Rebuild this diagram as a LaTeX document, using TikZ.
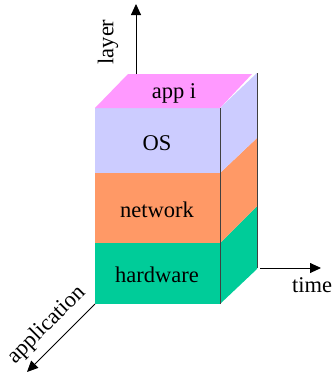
\documentclass[tikz,border=0pt]{standalone}
\usepackage{fontspec}
\setmainfont{Liberation Serif}
\usetikzlibrary{arrows.meta}
\definecolor{apppink}{HTML}{FF99FF}
\definecolor{oslav}{HTML}{CCCCFF}
\definecolor{netorange}{HTML}{FF9966}
\definecolor{hwgreen}{HTML}{00CC99}
\begin{document}
\begin{tikzpicture}[x=1pt,y=-1pt,
  lbl/.style={font=\fontsize{22.5}{27}\selectfont, inner sep=0pt},
  axis/.style={line width=0.9pt, -{Triangle[length=11pt,width=10pt]}},
  boxedge/.style={draw=black!75, line width=1pt}]
\useasboundingbox (0,0) rectangle (332,373);

% front face of the stack
\fill[hwgreen]   (95,243) rectangle (220,304);
\fill[netorange] (95,173) rectangle (220,243);
\fill[oslav]     (95,108) rectangle (220,173);
% side face
\fill[hwgreen]   (220,243) -- (257,206) -- (257,269) -- (220,304) -- cycle;
\fill[netorange] (220,173) -- (257,138) -- (257,206) -- (220,243) -- cycle;
\fill[oslav]     (220,108) -- (257,73)  -- (257,138) -- (220,173) -- cycle;
% top face
\fill[apppink]   (95,108) -- (220,108) -- (252,74) -- (128,74) -- cycle;

% vertical edges
\coordinate (frt) at (220,108);
\coordinate (frb) at (220,304);
\coordinate (brt) at (257,73);
\coordinate (brb) at (257,268);
\draw[boxedge] (frt) -- (frb);
\draw[boxedge] (brt) -- (brb);

% axes
\coordinate (layer0) at (136,74);
\coordinate (layer1) at (136,4);
\coordinate (time0)  at (260,268);
\coordinate (time1)  at (321,268);
\coordinate (app0)   at (95,304);
\coordinate (app1)   at (27,372);
\draw[axis] (layer0) -- (layer1);
\draw[axis] (time0) -- (time1);
\draw[axis] (app0) -- (app1);

% labels
\node[lbl] (appi) at (174,93) {app i};
\node[lbl] (os) at (157,143) {OS};
\node[lbl] (net) at (157,210) {network};
\node[lbl] (hw) at (157,275) {hardware};
\node[lbl, rotate=90] (layerlbl) at (108,42) {layer};
\node[lbl, rotate=45] (applbl) at (47,325) {application};
\node[lbl, anchor=west] (timelbl) at (292,285) {time};
\end{tikzpicture}
\end{document}
